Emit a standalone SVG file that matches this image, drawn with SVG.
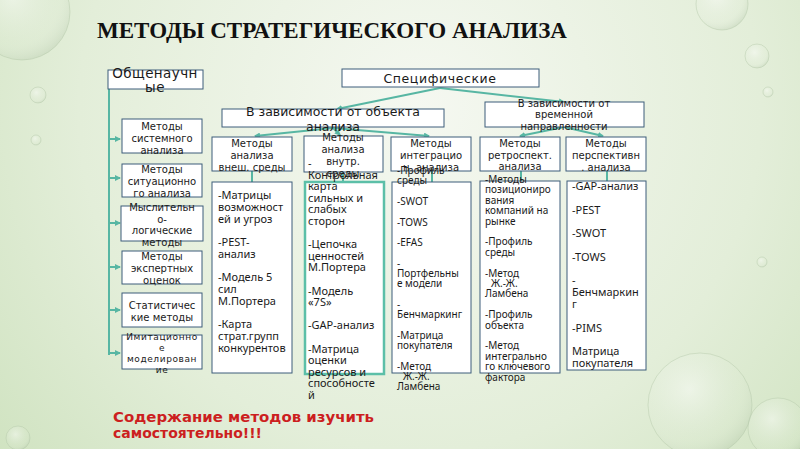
<svg xmlns="http://www.w3.org/2000/svg" width="800" height="449" viewBox="0 0 800 449">
<defs>
<radialGradient id="bg" cx="420" cy="110" r="620" gradientUnits="userSpaceOnUse">
<stop offset="0" stop-color="#f5f8f1"/>
<stop offset="0.55" stop-color="#e3eed9"/>
<stop offset="1" stop-color="#c9dfb8"/>
</radialGradient>
<radialGradient id="drop" cx="0.4" cy="0.35" r="0.7">
<stop offset="0" stop-color="#ffffff" stop-opacity="0.45"/>
<stop offset="0.7" stop-color="#e8f0e2" stop-opacity="0.1"/>
<stop offset="1" stop-color="#9fb596" stop-opacity="0.3"/>
</radialGradient>
<marker id="arr" viewBox="0 0 6 6" refX="5" refY="3" markerWidth="6" markerHeight="6" markerUnits="userSpaceOnUse" orient="auto">
<path d="M0,0 L6,3 L0,6 z" fill="#57b6a3"/>
</marker>
<style>
.box{fill:#ffffff;stroke:#3d5d7a;stroke-width:1}
.sel{fill:#ffffff;stroke:#5cbfa8;stroke-width:2.5}
.con{stroke:#57b6a3;stroke-width:2;fill:none}
.hd{font-family:"DejaVu Sans",sans-serif;font-size:10px;fill:#1a1a1a;text-anchor:middle}
.sm{font-family:"DejaVu Sans",sans-serif;font-size:9px;fill:#1a1a1a;text-anchor:middle;letter-spacing:0.6px}
.ct{font-family:"Noto Sans",sans-serif;font-size:11px;fill:#1a1a1a}
.ct10{font-family:"Noto Sans",sans-serif;font-size:10px;fill:#1a1a1a}
.dr{fill:url(#drop);stroke:#b3c7a9;stroke-opacity:0.45;stroke-width:1}
</style>
</defs>
<rect width="800" height="449" fill="url(#bg)"/>
<g id="drops">
<circle class="dr" cx="22" cy="12" r="48"/>
<circle class="dr" cx="38" cy="95" r="8"/>
<circle class="dr" cx="36" cy="140" r="5"/>
<circle class="dr" cx="722" cy="4" r="26"/>
<circle class="dr" cx="757" cy="56" r="12"/>
<circle class="dr" cx="768" cy="92" r="5"/>
<circle class="dr" cx="700" cy="405" r="52"/>
<circle class="dr" cx="778" cy="428" r="30"/>
<circle class="dr" cx="762" cy="262" r="5"/>
<circle class="dr" cx="18" cy="438" r="12"/>
</g>
<text id="title" x="97" y="38" font-family="Liberation Serif" font-weight="bold" font-size="24" fill="#111" textLength="470" lengthAdjust="spacingAndGlyphs">МЕТОДЫ СТРАТЕГИЧЕСКОГО АНАЛИЗА</text>

<g id="connectors">
<line class="con" x1="109" y1="89" x2="109" y2="355"/>
<line class="con" x1="109" y1="139" x2="120" y2="139" marker-end="url(#arr)"/>
<line class="con" x1="109" y1="178" x2="120" y2="178" marker-end="url(#arr)"/>
<line class="con" x1="109" y1="223" x2="120" y2="223" marker-end="url(#arr)"/>
<line class="con" x1="109" y1="267" x2="120" y2="267" marker-end="url(#arr)"/>
<line class="con" x1="109" y1="310" x2="120" y2="310" marker-end="url(#arr)"/>
<line class="con" x1="109" y1="353" x2="120" y2="353" marker-end="url(#arr)"/>
<line class="con" x1="440" y1="88" x2="337" y2="109" marker-end="url(#arr)"/>
<line class="con" x1="440" y1="88" x2="564" y2="102" marker-end="url(#arr)"/>
<line class="con" x1="333" y1="128" x2="255" y2="136" marker-end="url(#arr)"/>
<line class="con" x1="333" y1="128" x2="340" y2="135" marker-end="url(#arr)"/>
<line class="con" x1="333" y1="128" x2="429" y2="136" marker-end="url(#arr)"/>
<line class="con" x1="564" y1="127" x2="520" y2="136" marker-end="url(#arr)"/>
<line class="con" x1="564" y1="127" x2="603" y2="136" marker-end="url(#arr)"/>
<line class="con" x1="252" y1="171" x2="252" y2="182"/>
<line class="con" x1="343" y1="172" x2="343" y2="182"/>
<line class="con" x1="432" y1="171" x2="432" y2="182"/>
<line class="con" x1="521" y1="171" x2="521" y2="181"/>
<line class="con" x1="607" y1="171" x2="607" y2="181"/>
</g>

<g id="obshchenauchnye">
<rect class="box" x="108" y="70" width="95" height="19"/>
<text font-family="DejaVu Sans,sans-serif" font-size="13.5" letter-spacing="0.4" fill="#1a1a1a" text-anchor="middle"><tspan x="155" y="78">Общенаучн</tspan><tspan x="155" y="92">ые</tspan></text>
</g>
<g id="sistemnogo">
<rect class="box" x="122" y="119" width="80" height="34"/>
<text class="hd"><tspan x="162" y="130">Методы</tspan><tspan x="162" y="142">системного</tspan><tspan x="162" y="154">анализа</tspan></text>
</g>
<g id="situatsionnogo">
<rect class="box" x="122" y="164" width="80" height="33"/>
<text class="hd"><tspan x="162" y="172.5">Методы</tspan><tspan x="162" y="184.5">ситуационно</tspan><tspan x="162" y="196.5">го анализа</tspan></text>
</g>
<g id="myslitelno">
<rect class="box" x="121" y="206" width="82" height="35"/>
<text class="hd"><tspan x="162" y="211">Мыслительн</tspan><tspan x="162" y="222.5">о-</tspan><tspan x="162" y="234">логические</tspan><tspan x="162" y="245.5">методы</tspan></text>
</g>
<g id="ekspertnyh">
<rect class="box" x="122" y="251" width="80" height="33"/>
<text class="hd"><tspan x="162" y="260">Методы</tspan><tspan x="162" y="272">экспертных</tspan><tspan x="162" y="284">оценок</tspan></text>
</g>
<g id="statisticheskie">
<rect class="box" x="122" y="293" width="80" height="34"/>
<text class="hd"><tspan x="162" y="309">Статистичес</tspan><tspan x="162" y="321">кие методы</tspan></text>
</g>
<g id="imitatsionnoe">
<rect class="box" x="122" y="335" width="80" height="34"/>
<text class="sm"><tspan x="162" y="339.5">Имитационно</tspan><tspan x="162" y="350.5">е</tspan><tspan x="162" y="361.5">моделирован</tspan><tspan x="162" y="372.5">ие</tspan></text>
</g>

<g id="spetsificheskie">
<rect class="box" x="342" y="69" width="197" height="18"/>
<text x="440" y="83" font-family="DejaVu Sans,sans-serif" font-size="12.5" letter-spacing="0.6" fill="#1a1a1a" text-anchor="middle">Специфические</text>
</g>
<g id="ot_obekta">
<rect class="box" x="222" y="109" width="222" height="18"/>
<text font-family="DejaVu Sans,sans-serif" font-size="12.5" fill="#1a1a1a" text-anchor="middle"><tspan x="333" y="115.5">В зависимости от объекта</tspan><tspan x="333" y="131">анализа</tspan></text>
</g>
<g id="ot_vremeni">
<rect class="box" x="485" y="102" width="159" height="25"/>
<text class="hd" font-size="9.5"><tspan x="564" y="106.5">В зависимости от</tspan><tspan x="564" y="118">временной</tspan><tspan x="564" y="129.5">направленности</tspan></text>
</g>

<g id="vnesh_sredy">
<rect class="box" x="212" y="137" width="80" height="34"/>
<text class="hd"><tspan x="252" y="147">Методы</tspan><tspan x="252" y="159">анализа</tspan><tspan x="252" y="170.5">внеш. среды</tspan></text>
</g>
<g id="vnutr_sredy">
<rect class="box" x="304" y="136" width="79" height="36"/>
<text class="hd"><tspan x="343" y="141">Методы</tspan><tspan x="343" y="153">анализа</tspan><tspan x="343" y="165">внутр.</tspan><tspan x="343" y="177">среды</tspan></text>
</g>
<g id="integratsionn">
<rect class="box" x="391" y="137" width="80" height="34"/>
<text class="hd"><tspan x="431" y="147">Методы</tspan><tspan x="431" y="159">интеграцио</tspan><tspan x="431" y="171">н. анализа</tspan></text>
</g>
<g id="retrospekt">
<rect class="box" x="480" y="137" width="80" height="34"/>
<text class="hd"><tspan x="520" y="147">Методы</tspan><tspan x="520" y="158.5">ретроспект.</tspan><tspan x="520" y="170">анализа</tspan></text>
</g>
<g id="perspektivn">
<rect class="box" x="566" y="137" width="80" height="34"/>
<text class="hd"><tspan x="606" y="147">Методы</tspan><tspan x="606" y="159">перспективн</tspan><tspan x="606" y="171">. анализа</tspan></text>
</g>

<g id="list_vnesh">
<rect class="box" x="212" y="182" width="80" height="191"/>
<text class="ct"><tspan x="218" y="199">-Матрицы</tspan><tspan x="218" y="210.75">возможност</tspan><tspan x="218" y="222.5">ей и угроз</tspan><tspan x="218" y="246">-PEST-</tspan><tspan x="218" y="257.75">анализ</tspan><tspan x="218" y="281.25">-Модель 5</tspan><tspan x="218" y="293">сил</tspan><tspan x="218" y="304.75">М.Портера</tspan><tspan x="218" y="328.25">-Карта</tspan><tspan x="218" y="340">страт.групп</tspan><tspan x="218" y="351.75">конкурентов</tspan></text>
</g>
<g id="list_vnutr">
<rect class="sel" x="305" y="182" width="79" height="192"/>
<text class="ct" font-size="10.5"><tspan x="308" y="167">-</tspan><tspan x="308" y="178.6">Контрольная</tspan><tspan x="308" y="190.2">карта</tspan><tspan x="308" y="201.8">сильных и</tspan><tspan x="308" y="213.4">слабых</tspan><tspan x="308" y="225">сторон</tspan><tspan x="308" y="248.2">-Цепочка</tspan><tspan x="308" y="259.8">ценностей</tspan><tspan x="308" y="271.4">М.Портера</tspan><tspan x="308" y="294.6">-Модель</tspan><tspan x="308" y="306.2">«7S»</tspan><tspan x="308" y="329.4">-GAP-анализ</tspan><tspan x="308" y="352.6">-Матрица</tspan><tspan x="308" y="364.2">оценки</tspan><tspan x="308" y="375.8">ресурсов и</tspan><tspan x="308" y="387.4">способносте</tspan><tspan x="308" y="399">й</tspan></text>
</g>
<g id="list_integr">
<rect class="box" x="392" y="182" width="79" height="191"/>
<text class="ct10"><tspan x="397" y="174">-Профиль</tspan><tspan x="397" y="184.3">среды</tspan><tspan x="397" y="205">-SWOT</tspan><tspan x="397" y="225.6">-TOWS</tspan><tspan x="397" y="246.2">-EFAS</tspan><tspan x="397" y="266.8">-</tspan><tspan x="397" y="277">Портфельны</tspan><tspan x="397" y="287.4">е модели</tspan><tspan x="397" y="308">-</tspan><tspan x="397" y="318.3">Бенчмаркинг</tspan><tspan x="397" y="339">-Матрица</tspan><tspan x="397" y="349.2">покупателя</tspan><tspan x="397" y="369.8">-Метод</tspan><tspan x="403" y="380">Ж.-Ж.</tspan><tspan x="397" y="390.4">Ламбена</tspan></text>
</g>
<g id="list_retro">
<rect class="box" x="480" y="181" width="80" height="192"/>
<text class="ct10"><tspan x="485" y="183">-Методы</tspan><tspan x="485" y="193.4">позициониро</tspan><tspan x="485" y="203.8">вания</tspan><tspan x="485" y="214.2">компаний на</tspan><tspan x="485" y="224.6">рынке</tspan><tspan x="485" y="245.4">-Профиль</tspan><tspan x="485" y="255.8">среды</tspan><tspan x="485" y="276.6">-Метод</tspan><tspan x="491" y="287">Ж.-Ж.</tspan><tspan x="485" y="297.4">Ламбена</tspan><tspan x="485" y="318.2">-Профиль</tspan><tspan x="485" y="328.6">объекта</tspan><tspan x="485" y="349.4">-Метод</tspan><tspan x="485" y="359.8">интегрально</tspan><tspan x="485" y="370.2">го ключевого</tspan><tspan x="485" y="380.6">фактора</tspan></text>
</g>
<g id="list_persp">
<rect class="box" x="567" y="181" width="79" height="189"/>
<text class="ct"><tspan x="572" y="190">-GAP-анализ</tspan><tspan x="572" y="213.6">-PEST</tspan><tspan x="572" y="237.2">-SWOT</tspan><tspan x="572" y="260.8">-TOWS</tspan><tspan x="572" y="284.4">-</tspan><tspan x="572" y="296.2">Бенчмаркин</tspan><tspan x="572" y="308">г</tspan><tspan x="572" y="331.6">-PIMS</tspan><tspan x="572" y="355.2">Матрица</tspan><tspan x="572" y="367">покупателя</tspan></text>
</g>

<text id="note" font-family="DejaVu Sans,sans-serif" font-weight="bold" font-size="14" fill="#cc1f1f"><tspan x="113" y="422" textLength="261" lengthAdjust="spacingAndGlyphs">Содержание методов изучить</tspan><tspan x="113" y="438">самостоятельно!!!</tspan></text>
</svg>
